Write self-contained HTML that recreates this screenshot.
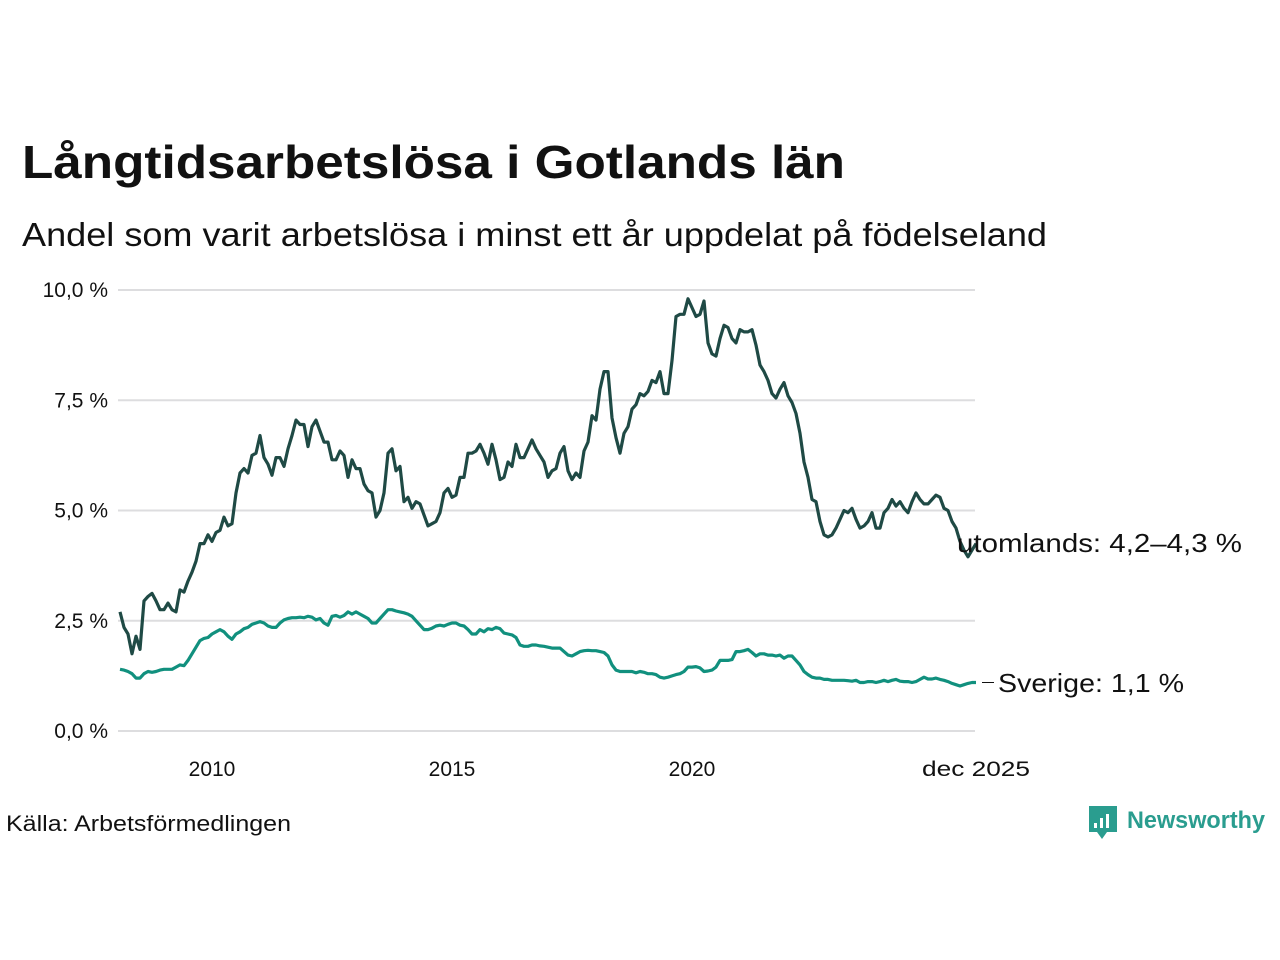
<!DOCTYPE html>
<html><head><meta charset="utf-8"><style>
body{margin:0;background:#fff;width:1280px;height:960px;overflow:hidden;font-family:"Liberation Sans",sans-serif}
</style></head><body>
<svg id="chart" width="1280" height="960" style="position:absolute;left:0;top:0">
<text x="22" y="178" font-size="46" font-weight="bold" fill="#111" textLength="823" lengthAdjust="spacingAndGlyphs">Långtidsarbetslösa i Gotlands län</text>
<text x="22" y="246" font-size="33" fill="#111" textLength="1025" lengthAdjust="spacingAndGlyphs">Andel som varit arbetslösa i minst ett år uppdelat på födelseland</text>
<text x="6" y="831" font-size="22" fill="#111" textLength="285" lengthAdjust="spacingAndGlyphs">Källa: Arbetsförmedlingen</text>
<g>
<path d="M1089 806 h28 v26 h-10 l-5 7 l-5 -7 h-8 z" fill="#2a9d8f"/>
<rect x="1094" y="823" width="3" height="5" fill="#fff"/><rect x="1100" y="818" width="3" height="10" fill="#fff"/><rect x="1106" y="814" width="3" height="14" fill="#fff"/>
<text x="1127" y="828" font-size="24" font-weight="bold" fill="#2a9d8f" textLength="138" lengthAdjust="spacingAndGlyphs">Newsworthy</text>
</g>
<g id="grid"></g><g id="lines"></g>
</svg>
<script>
const yTicks=[0,2.5,5,7.5,10];
const yTickLabels=["0,0 %","2,5 %","5,0 %","7,5 %","10,0 %"];
const xTickYears=[2010,2015,2020];
const xTickLabels=["2010","2015","2020","dec 2025"];
const utomlands=[2.7,2.35,2.2,1.75,2.15,1.85,2.95,3.05,3.12,2.95,2.75,2.75,2.9,2.75,2.7,3.2,3.15,3.4,3.6,3.85,4.25,4.25,4.45,4.3,4.5,4.55,4.85,4.65,4.7,5.4,5.85,5.95,5.85,6.25,6.3,6.7,6.2,6.05,5.8,6.2,6.2,6.0,6.4,6.7,7.05,6.95,6.95,6.45,6.9,7.05,6.8,6.55,6.55,6.15,6.15,6.35,6.25,5.75,6.15,5.95,5.95,5.6,5.45,5.4,4.85,5.0,5.4,6.3,6.4,5.9,6.0,5.2,5.3,5.05,5.2,5.15,4.9,4.65,4.7,4.75,4.95,5.4,5.5,5.3,5.35,5.75,5.75,6.3,6.3,6.35,6.5,6.3,6.05,6.5,6.15,5.7,5.75,6.1,6.0,6.5,6.2,6.2,6.4,6.6,6.4,6.25,6.1,5.75,5.9,5.95,6.3,6.45,5.9,5.7,5.85,5.75,6.35,6.55,7.15,7.05,7.75,8.15,8.15,7.1,6.65,6.3,6.75,6.9,7.3,7.4,7.65,7.6,7.7,7.95,7.9,8.15,7.65,7.65,8.4,9.4,9.45,9.45,9.8,9.6,9.4,9.45,9.75,8.8,8.55,8.5,8.9,9.2,9.15,8.9,8.8,9.1,9.05,9.05,9.1,8.75,8.3,8.15,7.95,7.65,7.55,7.75,7.9,7.6,7.45,7.2,6.75,6.1,5.75,5.25,5.2,4.75,4.45,4.4,4.45,4.6,4.8,5.0,4.95,5.05,4.8,4.6,4.65,4.75,4.95,4.6,4.6,4.95,5.05,5.25,5.1,5.2,5.05,4.95,5.2,5.4,5.25,5.15,5.15,5.25,5.35,5.3,5.05,5.0,4.75,4.6,4.3,4.1,3.95,4.1,4.25];
const sverige=[1.4,1.38,1.35,1.3,1.2,1.2,1.3,1.35,1.33,1.35,1.38,1.4,1.4,1.4,1.45,1.5,1.48,1.6,1.75,1.9,2.05,2.1,2.12,2.2,2.25,2.3,2.25,2.15,2.08,2.2,2.25,2.32,2.35,2.42,2.45,2.48,2.45,2.38,2.35,2.35,2.45,2.52,2.55,2.57,2.57,2.58,2.57,2.6,2.58,2.52,2.55,2.45,2.4,2.6,2.62,2.58,2.62,2.7,2.65,2.7,2.65,2.6,2.55,2.45,2.45,2.55,2.65,2.75,2.75,2.72,2.7,2.68,2.65,2.6,2.5,2.4,2.3,2.3,2.33,2.38,2.4,2.38,2.42,2.45,2.45,2.4,2.38,2.3,2.2,2.2,2.3,2.25,2.32,2.3,2.35,2.32,2.22,2.2,2.18,2.12,1.95,1.92,1.92,1.95,1.95,1.93,1.92,1.9,1.88,1.88,1.88,1.8,1.72,1.7,1.75,1.8,1.82,1.83,1.82,1.82,1.8,1.78,1.7,1.5,1.38,1.35,1.35,1.35,1.35,1.32,1.35,1.33,1.3,1.3,1.28,1.22,1.2,1.22,1.25,1.28,1.3,1.35,1.45,1.45,1.46,1.43,1.35,1.36,1.38,1.45,1.6,1.6,1.6,1.62,1.8,1.8,1.82,1.85,1.78,1.7,1.75,1.75,1.72,1.72,1.7,1.72,1.65,1.7,1.7,1.6,1.5,1.35,1.28,1.22,1.2,1.2,1.17,1.17,1.15,1.15,1.15,1.15,1.14,1.13,1.15,1.1,1.1,1.12,1.12,1.1,1.12,1.15,1.12,1.15,1.17,1.13,1.12,1.12,1.1,1.12,1.17,1.22,1.18,1.18,1.2,1.17,1.15,1.12,1.08,1.05,1.02,1.05,1.08,1.1,1.1];
const NS='http://www.w3.org/2000/svg';
const yS=v=>731-v*44.1;
const xS=m=>212+m*4;
const grid=document.getElementById('grid'),lines=document.getElementById('lines');
function mk(t,a,p){const e=document.createElementNS(NS,t);for(const k in a)e.setAttribute(k,a[k]);p.appendChild(e);return e;}
yTicks.forEach((v,i)=>{
 const l=mk('line',{x1:118,x2:975,y1:yS(v),y2:yS(v),stroke:'#dddddf','stroke-width':2},grid);
 
 
 const t=mk('text',{x:108,y:yS(v)+7,'text-anchor':'end','font-size':21,fill:'#111'},grid);t.textContent=yTickLabels[i];
 
 
});
const xt=xTickYears.map(y=>(y-2010)*12).concat([191]);
xt.forEach((m,i)=>{
 const t=mk('text',{x:xS(m),y:776,'text-anchor':'middle','font-size':21,fill:'#111'},grid);t.textContent=xTickLabels[i];
 if(i===3){t.setAttribute('textLength','108');t.setAttribute('lengthAdjust','spacingAndGlyphs');}
 
 
});
function draw(arr,color,name){
 const n=arr.length,start=191-(n-1);
 const d=arr.map((v,i)=>(i?'L':'M')+xS(start+i).toFixed(1)+' '+yS(v).toFixed(1)).join(' ');
 const p=mk('path',{d:d,fill:'none',stroke:color,'stroke-width':3.2,'stroke-linejoin':'round'},lines);
 
 
}
draw(sverige,'#11907e','line-sverige');
draw(utomlands,'#1f4a45','line-utomlands');
const l1=mk('text',{x:957,y:552,'font-size':26,fill:'#111',textLength:285,lengthAdjust:'spacingAndGlyphs'},lines);l1.textContent='utomlands: 4,2–4,3 %';


mk('line',{x1:982,x2:994,y1:yS(sverige[sverige.length-1]),y2:yS(sverige[sverige.length-1]),stroke:'#111','stroke-width':1},lines);
const l2=mk('text',{x:998,y:692,'font-size':26,fill:'#111',textLength:186,lengthAdjust:'spacingAndGlyphs'},lines);l2.textContent='Sverige: 1,1 %';


</script>
</body></html>
